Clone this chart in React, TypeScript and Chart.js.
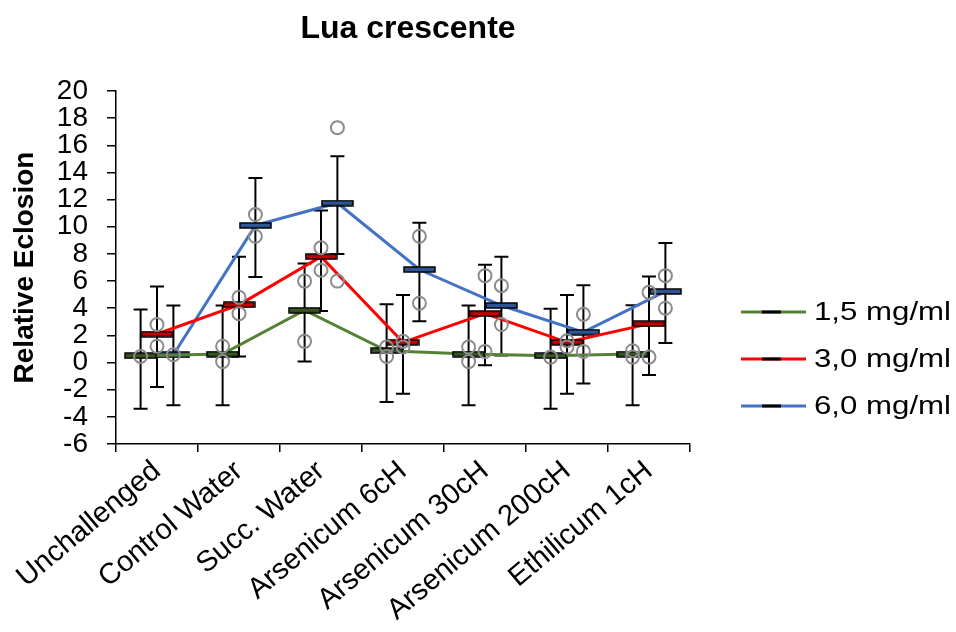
import React, { useEffect, useRef } from "react";
import { Chart, registerables } from "chart.js";

Chart.register(...registerables);

const FONT = "'Liberation Sans', Arial, Helvetica, sans-serif";

const categories = [
  "Unchallenged",
  "Control Water",
  "Succ. Water",
  "Arsenicum 6cH",
  "Arsenicum 30cH",
  "Arsenicum 200cH",
  "Ethilicum 1cH",
];

const seriesLabels = ["1,5 mg/ml", "3,0 mg/ml", "6,0 mg/ml"];
const lineColors = ["#548235", "#FF0000", "#4472C4"];
const markerColors = ["#375623", "#C00000", "#2F5597"];
const seriesOffsets = [-0.2, 0, 0.2];

// 1,5 mg/ml
const means15 = [0.5, 0.62, 3.85, 0.87, 0.62, 0.5, 0.62];
const high15 = [3.9, 4.2, 7.3, 4.3, 4.2, 3.97, 4.22];
const low15 = [-3.4, -3.15, 0.07, -2.9, -3.15, -3.4, -3.15];
const points15 = [[0.45], [1.2, 0.07], [6.0, 1.56], [1.14, 0.45], [1.14, 0.07], [0.4], [0.87, 0.4]];

// 3,0 mg/ml
const means30 = [2.1, 4.25, 7.8, 1.49, 3.6, 1.49, 2.85];
const high30 = [5.6, 7.8, 11.2, 4.97, 7.2, 4.97, 6.33];
const low30 = [-1.8, 0.45, 3.8, -2.3, -0.2, -2.3, -0.92];
const points30 = [[2.8, 1.2], [4.8, 3.6], [8.45, 6.8], [1.56, 1.14], [6.4, 0.82], [1.6, 1.14], [5.17, 0.4]];

// 6,0 mg/ml
const means60 = [0.57, 10.1, 11.75, 6.85, 4.2, 2.24, 5.24];
const high60 = [4.2, 13.6, 15.2, 10.3, 7.8, 5.7, 8.8];
const low60 = [-3.15, 6.3, 8.0, 3.05, 0.52, -1.54, 1.44];
const points60 = [[0.57], [10.9, 9.3], [17.3, 6.0], [9.3, 4.37], [5.66, 2.8], [3.55, 0.82], [6.4, 4.0]];

const yMin = -6;
const yMax = 20;
const yStep = 2;

const chartTitle = "Lua crescente";
const yTitle = "Relative Eclosion";

const seriesMeans = [means15, means30, means60];
const seriesHigh = [high15, high30, high60];
const seriesLow = [low15, low30, low60];
const seriesPoints = [points15, points30, points60];

function makeMarker(fill: string): HTMLCanvasElement {
  const c = document.createElement("canvas");
  c.width = 33;
  c.height = 7;
  const ctx = c.getContext("2d")!;
  ctx.fillStyle = fill;
  ctx.fillRect(1, 1, 31, 5);
  ctx.strokeStyle = "#000";
  ctx.lineWidth = 1.5;
  ctx.strokeRect(1, 1, 31, 5);
  return c;
}

const errorBarPlugin = {
  id: "errorBars",
  beforeDatasetsDraw(chart: any) {
    const xs = chart.scales.x;
    const ys = chart.scales.y;
    const ctx = chart.ctx;
    ctx.save();
    ctx.strokeStyle = "#000";
    ctx.lineWidth = 2;
    const cap = 7;
    seriesMeans.forEach((means, si) => {
      means.forEach((_m, i) => {
        const px = xs.getPixelForValue(i + seriesOffsets[si]);
        const top = ys.getPixelForValue(seriesHigh[si][i]);
        const bot = ys.getPixelForValue(seriesLow[si][i]);
        ctx.beginPath();
        ctx.moveTo(px, top);
        ctx.lineTo(px, bot);
        ctx.moveTo(px - cap, top);
        ctx.lineTo(px + cap, top);
        ctx.moveTo(px - cap, bot);
        ctx.lineTo(px + cap, bot);
        ctx.stroke();
      });
    });
    ctx.restore();
  },
};

const decorPlugin = {
  id: "decor",
  afterDraw(chart: any) {
    const ctx = chart.ctx;
    ctx.save();
    // title
    ctx.fillStyle = "#000";
    ctx.font = `bold 32px ${FONT}`;
    ctx.textAlign = "center";
    ctx.textBaseline = "middle";
    ctx.fillText(chartTitle, 408, 29);
    // legend
    const ys = [312, 359, 406];
    seriesLabels.forEach((label, i) => {
      const y = ys[i];
      ctx.strokeStyle = lineColors[i];
      ctx.lineWidth = 3;
      ctx.beginPath();
      ctx.moveTo(741, y);
      ctx.lineTo(806, y);
      ctx.stroke();
      ctx.strokeStyle = "#000";
      ctx.beginPath();
      ctx.moveTo(762, y);
      ctx.lineTo(781, y);
      ctx.stroke();
      ctx.save();
      ctx.translate(814, y + 1);
      ctx.scale(1.2, 1);
      ctx.fillStyle = "#000";
      ctx.font = `26px ${FONT}`;
      ctx.textAlign = "left";
      ctx.textBaseline = "middle";
      ctx.fillText(label, 0, 0);
      ctx.restore();
    });
    ctx.restore();
  },
};

export default function App() {
  const canvasRef = useRef<HTMLCanvasElement | null>(null);

  useEffect(() => {
    if (!canvasRef.current) return;
    const markers = markerColors.map(makeMarker);

    const lineSets = seriesMeans.map((means, si) => ({
      type: "line" as const,
      label: seriesLabels[si],
      data: means.map((m, i) => ({ x: i + seriesOffsets[si], y: m })),
      borderColor: lineColors[si],
      backgroundColor: lineColors[si],
      borderWidth: 3,
      tension: 0,
      pointStyle: markers[si],
      pointRadius: 6,
      pointHoverRadius: 6,
      xAxisID: "x",
      yAxisID: "y",
      order: 2,
    }));

    const pointSets = seriesPoints.map((pts, si) => ({
      type: "scatter" as const,
      label: seriesLabels[si] + " points",
      data: pts.flatMap((vals, i) => vals.map((v) => ({ x: i + seriesOffsets[si], y: v }))),
      showLine: false,
      pointStyle: "circle",
      pointRadius: 6.5,
      pointHoverRadius: 6.5,
      borderColor: "#8c8c8c",
      backgroundColor: "rgba(0,0,0,0)",
      pointBorderWidth: 2,
      borderWidth: 2,
      xAxisID: "x",
      yAxisID: "y",
      order: 1,
    }));

    const chart = new Chart(canvasRef.current, {
      type: "line",
      data: {
        labels: categories,
        datasets: [...lineSets, ...pointSets] as any,
      },
      options: {
        animation: false,
        responsive: false,
        maintainAspectRatio: false,
        events: [],
        layout: { padding: { left: 0, top: 91, right: 266, bottom: 0 } },
        plugins: {
          legend: { display: false },
          title: { display: false },
          tooltip: { enabled: false },
        },
        scales: {
          x: {
            type: "linear",
            display: false,
            min: -0.5,
            max: 6.5,
          },
          xc: {
            type: "category",
            position: "bottom",
            labels: categories,
            offset: true,
            grid: {
              offset: true,
              drawOnChartArea: false,
              drawTicks: true,
              tickLength: 8,
              color: "#000",
              lineWidth: 1.5,
            },
            border: { display: true, color: "#000", width: 1.5 },
            ticks: {
              color: "#000",
              font: { size: 29, family: FONT },
              minRotation: 40,
              maxRotation: 40,
              autoSkip: false,
              padding: 2,
            },
            afterFit(scale: any) {
              scale.height = 632 - 444;
            },
          },
          y: {
            type: "linear",
            position: "left",
            min: yMin,
            max: yMax,
            ticks: {
              stepSize: yStep,
              autoSkip: false,
              color: "#000",
              font: { size: 28, family: FONT },
              padding: 19,
            },
            grid: {
              drawOnChartArea: false,
              drawTicks: true,
              tickLength: 9,
              color: "#000",
              lineWidth: 1.5,
            },
            border: { display: true, color: "#000", width: 1.5 },
            title: {
              display: true,
              text: yTitle,
              color: "#000",
              font: { size: 28, weight: "bold", family: FONT },
              padding: { top: 8, bottom: 0 },
            },
            afterFit(scale: any) {
              scale.width = 116;
            },
          },
        },
      } as any,
      plugins: [errorBarPlugin, decorPlugin],
    });
    return () => chart.destroy();
  }, []);

  return (
    <div style={{ position: "fixed", left: 0, top: 0, width: 956, height: 632, background: "#fff" }}>
      <canvas ref={canvasRef} width={956} height={632} style={{ width: 956, height: 632 }} />
    </div>
  );
}
